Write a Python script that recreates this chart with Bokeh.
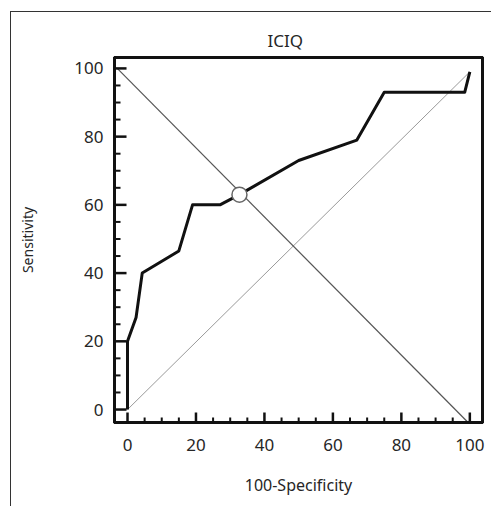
from bokeh.plotting import figure
from bokeh.models import Range1d, FixedTicker, Title
from bokeh.embed import file_html
from bokeh.resources import INLINE

# ROC curve for the ICIQ score
fpr = [0, 0, 2.5, 4.3, 15, 19, 27, 32.7, 50, 67, 75, 98.5, 100]
sens = [0, 20, 27, 40, 46.5, 60, 60, 63, 73, 79, 93, 93, 99]

# reference lines
chance_x = [0, 100]
chance_y = [0, 99]
equal_x = [-3, 99.5]
equal_y = [100, -3.8]

# chosen cut-off point
cut_x = [32.7]
cut_y = [63]

# axis ticks
major_ticks = [0, 20, 40, 60, 80, 100]
minor_ticks = [5, 10, 15, 25, 30, 35, 45, 50, 55, 65, 70, 75, 85, 90, 95]

FONT = "Noto Sans"
TXT = "#262626"
INK = "#111111"

X0, X1 = -3.8, 103.7
Y0, Y1 = -3.8, 103.2

p = figure(width=481, height=495, output_backend="svg", toolbar_location=None,
           x_range=Range1d(X0, X1), y_range=Range1d(Y0, Y1),
           min_border_left=103, min_border_right=10,
           min_border_top=45, min_border_bottom=85,
           margin=(11, 0, 0, 10))

# page frame on the left and top edges
p.styles = {"border-left": "1.5px solid #333333",
            "border-top": "1.5px solid #333333"}

p.title = Title(text="ICIQ", align="left", offset=153, standoff=12,
                text_font=FONT, text_font_size="17px",
                text_font_style="normal", text_color=TXT)

p.xgrid.visible = False
p.ygrid.visible = False
p.outline_line_color = INK
p.outline_line_width = 3

for ax in (p.xaxis[0], p.yaxis[0]):
    ax.ticker = FixedTicker(ticks=major_ticks)
    ax.axis_line_color = INK
    ax.axis_line_width = 3
    ax.major_tick_line_color = None
    ax.minor_tick_line_color = None
    ax.major_label_text_font = FONT
    ax.major_label_text_font_size = "17px"
    ax.major_label_text_color = TXT
    ax.axis_label_text_font = FONT
    ax.axis_label_text_font_style = "normal"
    ax.axis_label_text_color = TXT

p.xaxis.axis_label = "100-Specificity"
p.xaxis.axis_label_text_font_size = "16px"
p.xaxis.major_label_standoff = 10
p.xaxis.axis_label_standoff = 20

p.yaxis.axis_label = "Sensitivity"
p.yaxis.axis_label_text_font_size = "14px"
p.yaxis.major_label_standoff = 5
p.yaxis.axis_label_standoff = 34

# diagonals
p.line(chance_x, chance_y, line_color="#9a9a9a", line_width=1)
p.line(equal_x, equal_y, line_color="#555555", line_width=1.2)

# ROC curve
p.line(fpr, sens, line_color=INK, line_width=3, line_join="round")

# cut-off marker
p.scatter(cut_x, cut_y, size=15, fill_color="white", line_color="#666666",
          line_width=1.5)

# inner edge of the plot box, drawn on top
p.quad(left=[X0], right=[X1], bottom=[Y0], top=[Y1], fill_color=None,
       line_color=INK, line_width=3, level="overlay")

# inward tick marks along the bottom and left edges (lengths in data units)
XPX = 367.5 / (X1 - X0)
YPX = 365.0 / (Y1 - Y0)
p.segment(x0=major_ticks, y0=[Y0] * len(major_ticks),
          x1=major_ticks, y1=[Y0 + 10 / YPX] * len(major_ticks),
          line_color=INK, line_width=2.5, level="overlay")
p.segment(x0=minor_ticks, y0=[Y0] * len(minor_ticks),
          x1=minor_ticks, y1=[Y0 + 5 / YPX] * len(minor_ticks),
          line_color=INK, line_width=2, level="overlay")
p.segment(x0=[X0] * len(major_ticks), y0=major_ticks,
          x1=[X0 + 12 / XPX] * len(major_ticks), y1=major_ticks,
          line_color=INK, line_width=2.5, level="overlay")
p.segment(x0=[X0] * len(minor_ticks), y0=minor_ticks,
          x1=[X0 + 6 / XPX] * len(minor_ticks), y1=minor_ticks,
          line_color=INK, line_width=2, level="overlay")

open("out.html", "w").write(file_html(p, INLINE))
